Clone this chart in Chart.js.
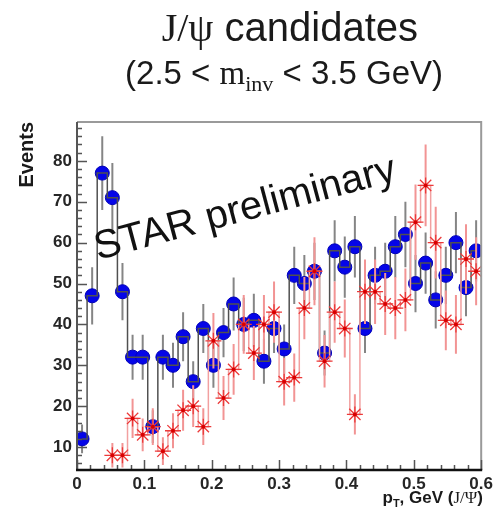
<!DOCTYPE html>
<html>
<head>
<meta charset="utf-8">
<script src="https://cdn.jsdelivr.net/npm/chart.js@4.4.1/dist/chart.umd.min.js"></script>
<style>
  html, body { margin: 0; padding: 0; background: #fff; }
  canvas { display: block; }
</style>
</head>
<body>
<canvas id="chart" width="497" height="512"></canvas>
<script>
// bin centres, pT in GeV (bins of 15 MeV)
const binCenters = [0.0075, 0.0225, 0.0375, 0.0525, 0.0675, 0.0825, 0.0975, 0.1125, 0.1275, 0.1425,
  0.1575, 0.1725, 0.1875, 0.2025, 0.2175, 0.2325, 0.2475, 0.2625, 0.2775, 0.2925,
  0.3075, 0.3225, 0.3375, 0.3525, 0.3675, 0.3825, 0.3975, 0.4125, 0.4275, 0.4425,
  0.4575, 0.4725, 0.4875, 0.5025, 0.5175, 0.5325, 0.5475, 0.5625, 0.5775, 0.5925];

// blue histogram (unlike-sign pairs)
const blueCounts = [12, 47, 77, 71, 48, 32, 32, 15, 32, 30, 37, 26, 39, 30, 38, 45, 40, 41, 31, 39,
  34, 52, 50, 53, 33, 58, 54, 59, 39, 52, 53, 59, 62, 50, 55, 46, 52, 60, 49, 58];
const blueErrors = [3.5, 7, 9, 8.5, 7, 5.5, 5.5, 4, 5.5, 5.5, 6, 5, 6, 5.5, 6, 6.5, 6.5, 6.5, 5.5, 6,
  6, 7, 7, 7, 5.5, 7.5, 7.5, 7.5, 6, 7, 7, 7.5, 8, 7, 7.5, 7, 7, 7.5, 7, 7.5];

// red histogram (like-sign background)
const redCounts = [null, null, null, 8, 8, 17, 13, 15, 9, 14, 19, 20, 15, 36, 22, 29, 40, 33, 40, 43,
  26, 27, 44, 53, 31, 43, 39, 18, 48, 48, 45, 44, 46, 65, 74, 60, 41, 40, 56, 53];
const redErrors = [null, null, null, 3, 3, 4.8, 4, 4.5, 3.4, 4.3, 5, 5.1, 4.5, 6.8, 5.4, 6.2, 7.2, 6.6, 7.2, 7.5,
  5.8, 5.9, 7.6, 8.3, 6.4, 7.5, 7.1, 4.9, 7.9, 7.9, 7.6, 7.6, 7.7, 9.2, 10, 8.8, 7.3, 7.2, 8.5, 8.3];

const xTicks = [0, 0.1, 0.2, 0.3, 0.4, 0.5, 0.6];
const yTicks = [10, 20, 30, 40, 50, 60, 70, 80];

const SANS = '"Liberation Sans", Arial, sans-serif';
const SERIF = '"Liberation Serif", "Times New Roman", serif';

function points(counts) {
  return binCenters.map((x, i) => ({ x: x, y: counts[i] }));
}

function drawErrors(chart, counts, errors, color, width) {
  const ctx = chart.ctx;
  const xs = chart.scales.x, ys = chart.scales.y, a = chart.chartArea;
  ctx.save();
  ctx.beginPath();
  ctx.rect(a.left, a.top, a.right - a.left, a.bottom - a.top);
  ctx.clip();
  ctx.beginPath();
  ctx.strokeStyle = color;
  ctx.lineWidth = width;
  binCenters.forEach((x, i) => {
    if (counts[i] == null) return;
    const px = xs.getPixelForValue(x);
    ctx.moveTo(px, ys.getPixelForValue(counts[i] - errors[i]));
    ctx.lineTo(px, ys.getPixelForValue(counts[i] + errors[i]));
  });
  ctx.stroke();
  ctx.restore();
}

// draws text made of pieces [text, font, baseline shift], right end at xr
function drawPieces(ctx, pieces, xr, y) {
  let total = 0;
  pieces.forEach(p => { ctx.font = p[1]; total += ctx.measureText(p[0]).width; });
  let x = xr - total;
  pieces.forEach(p => {
    ctx.font = p[1];
    ctx.fillText(p[0], x, y + p[2]);
    x += ctx.measureText(p[0]).width;
  });
}

const errorBars = {
  id: 'errorBars',
  beforeDatasetDraw(chart, args) {
    if (args.index === 0) drawErrors(chart, blueCounts, blueErrors, '#858585', 2);
    if (args.index === 2) drawErrors(chart, redCounts, redErrors, '#f29494', 2);
  }
};

const frame = {
  id: 'frame',
  afterDatasetsDraw(chart) {
    const ctx = chart.ctx, a = chart.chartArea;
    const xs = chart.scales.x, ys = chart.scales.y;
    ctx.save();
    ctx.lineWidth = 2;
    ctx.strokeStyle = '#9a9a9a';
    ctx.beginPath();
    ctx.moveTo(a.left, a.top); ctx.lineTo(a.right, a.top); ctx.lineTo(a.right, a.bottom);
    ctx.stroke();

    // inside ticks, y axis
    ctx.strokeStyle = '#555';
    ctx.lineWidth = 1.5;
    ctx.beginPath();
    const ys0 = yTicks[1] - yTicks[0];
    for (let v = yTicks[0] - ys0; v <= ys.max; v += ys0 / 5) {
      if (v < ys.min) continue;
      const major = Math.abs(v / ys0 - Math.round(v / ys0)) < 1e-6;
      const py = Math.round(ys.getPixelForValue(v)) + 0.5;
      ctx.moveTo(a.left, py);
      ctx.lineTo(a.left + (major ? 10 : 5), py);
    }
    // inside ticks, x axis
    const xs0 = xTicks[1] - xTicks[0];
    for (let k = 0; k <= Math.round((xs.max - xs.min) / xs0 * 5); k++) {
      const v = xs.min + k * xs0 / 5;
      const px = Math.round(xs.getPixelForValue(v)) + 0.5;
      ctx.moveTo(px, a.bottom);
      ctx.lineTo(px, a.bottom - (k % 5 === 0 ? 10 : 5));
    }
    ctx.stroke();

    ctx.strokeStyle = '#555';
    ctx.lineWidth = 2;
    ctx.beginPath();
    ctx.moveTo(a.left, a.top); ctx.lineTo(a.left, a.bottom);
    ctx.stroke();
    ctx.strokeStyle = '#111';
    ctx.lineWidth = 2.5;
    ctx.beginPath();
    ctx.moveTo(a.left - 1, a.bottom); ctx.lineTo(a.right + 1, a.bottom);
    ctx.stroke();
    ctx.restore();
  }
};

const labels = {
  id: 'labels',
  afterDraw(chart) {
    const ctx = chart.ctx;
    ctx.save();
    ctx.textBaseline = 'alphabetic';
    ctx.textAlign = 'left';
    ctx.fillStyle = '#1a1a1a';

    drawPieces(ctx, [['J/\u03c8', '40px ' + SERIF, 0], [' candidates', '40px ' + SANS, 0]], 418, 41);
    drawPieces(ctx, [
      ['(2.5 < ', '33px ' + SANS, 0],
      ['m', '33px ' + SERIF, 0],
      ['inv', '22px ' + SERIF, 7],
      [' < 3.5 GeV)', '33px ' + SANS, 0]
    ], 443, 84);

    drawPieces(ctx, [
      ['p', 'bold 17px ' + SANS, 0],
      ['T', 'bold 11px ' + SANS, 4],
      [', GeV (', 'bold 17px ' + SANS, 0],
      ['J/\u03a8', '17px ' + SERIF, 0],
      [')', 'bold 17px ' + SANS, 0]
    ], 483, 503);

    // y axis title
    ctx.save();
    ctx.translate(33, chart.chartArea.top);
    ctx.rotate(-Math.PI / 2);
    ctx.textAlign = 'right';
    ctx.font = 'bold 20px ' + SANS;
    ctx.fillText('Events', 0, 0);
    ctx.restore();

    // watermark
    ctx.save();
    ctx.translate(98, 260);
    ctx.rotate(-14.9 * Math.PI / 180);
    ctx.font = '40px ' + SANS;
    ctx.fillStyle = '#111';
    ctx.fillText('STAR preliminary', 0, 0);
    ctx.restore();

    ctx.restore();
  }
};

new Chart(document.getElementById('chart'), {
  type: 'scatter',
  data: {
    datasets: [
      {
        label: 'blue',
        data: points(blueCounts),
        pointStyle: 'circle',
        pointRadius: 7,
        backgroundColor: '#0505e8',
        borderColor: '#0000b8',
        borderWidth: 1,
        order: 5
      },
      {
        label: 'blue outline',
        data: points(blueCounts),
        showLine: true,
        stepped: 'middle',
        pointRadius: 0,
        borderColor: '#505050',
        borderWidth: 1.5,
        order: 4
      },
      {
        label: 'red outline',
        data: points(redCounts),
        showLine: true,
        stepped: 'middle',
        spanGaps: false,
        pointRadius: 0,
        borderColor: '#f2a0a0',
        borderWidth: 1.5,
        order: 3
      },
      {
        label: 'red',
        data: points(redCounts),
        pointStyle: 'star',
        pointRadius: 8,
        borderColor: '#ec3a3a',
        borderWidth: 1.3,
        backgroundColor: 'rgba(0,0,0,0)',
        order: 2
      },
      {
        label: 'red centre',
        data: points(redCounts),
        pointStyle: 'circle',
        pointRadius: 2,
        backgroundColor: '#d80000',
        borderWidth: 0,
        order: 1
      }
    ]
  },
  options: {
    responsive: false,
    animation: false,
    devicePixelRatio: 1,
    layout: { padding: { left: 0, right: 13, top: 122, bottom: 0 } },
    plugins: {
      legend: { display: false },
      tooltip: { enabled: false },
      title: { display: false }
    },
    scales: {
      x: {
        type: 'linear',
        min: 0,
        max: 0.6,
        grid: { display: false, drawTicks: false },
        border: { display: false },
        afterBuildTicks: (s) => { s.ticks = xTicks.map(v => ({ value: v })); },
        afterFit: (s) => { s.height = 42; },
        ticks: {
          padding: 4,
          color: '#262626',
          font: { family: SANS, size: 17, weight: 'bold' },
          callback: (v) => String(v)
        }
      },
      y: {
        min: 4.4,
        max: 89.5,
        grid: { display: false, drawTicks: false },
        border: { display: false },
        afterBuildTicks: (s) => { s.ticks = yTicks.map(v => ({ value: v })); },
        afterFit: (s) => { s.width = 77; },
        ticks: {
          padding: 5,
          color: '#262626',
          font: { family: SANS, size: 17, weight: 'bold' },
          callback: (v) => String(v)
        }
      }
    }
  },
  plugins: [errorBars, frame, labels]
});
</script>
</body>
</html>
